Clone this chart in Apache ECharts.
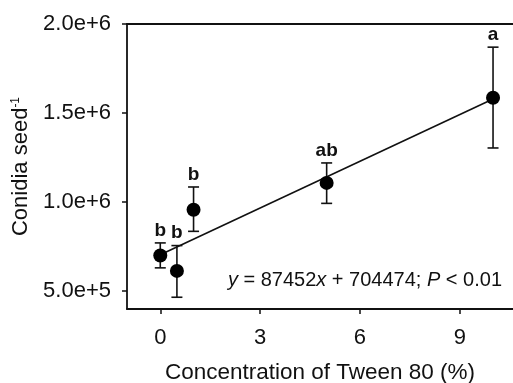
<!DOCTYPE html>
<html>
<head>
<meta charset="utf-8">
<script src="https://cdn.jsdelivr.net/npm/echarts@6/dist/echarts.min.js"></script>
<style>
  html, body { margin: 0; padding: 0; background: #fff; }
  #chart { width: 513px; height: 383px; }
</style>
</head>
<body>
<div id="chart"></div>
<script>
// Tween 80 concentration (%) vs conidia per seed
const concentrations = [0, 0.5, 1, 5, 10]
const meanConidia = [700000, 614000, 957000, 1108000, 1586000]
const errLow = [631000, 466000, 836000, 993000, 1304000]
const errHigh = [771000, 756000, 1085000, 1220000, 1870000]
const letters = ['b', 'b', 'b', 'ab', 'a']
const fitLine = [[0, 704474], [10, 1578994]]
const xTicks = [0, 3, 6, 9]
const yTicks = [500000, 1000000, 1500000, 2000000]

const font = '"Liberation Sans", Arial, sans-serif'
const ink = '#111'

const chart = echarts.init(document.getElementById('chart'))

const points = concentrations.map((x, i) => [x, meanConidia[i]])
const bars = concentrations.map((x, i) => [x, errLow[i], errHigh[i], i])

chart.setOption({
  animation: false,
  grid: { left: 127, right: 0, top: 24, bottom: 74, outerBoundsMode: 'none', containLabel: false },
  xAxis: [
    {
      type: 'value',
      min: -1,
      max: 10.6,
      splitLine: { show: false },
      axisLine: { onZero: false, lineStyle: { color: ink, width: 1.8 } },
      axisTick: { customValues: xTicks, length: 5, lineStyle: { color: ink, width: 1.5 } },
      axisLabel: { customValues: xTicks, color: ink, fontSize: 22, fontFamily: font, margin: 18 },
      name: 'Concentration of Tween 80 (%)',
      nameLocation: 'middle',
      nameGap: 52,
      nameTextStyle: { color: ink, fontSize: 22.5, fontFamily: font },
    },
    {
      type: 'value',
      position: 'top',
      min: -1,
      max: 10.6,
      splitLine: { show: false },
      axisLine: { show: true, onZero: false, lineStyle: { color: ink, width: 1.8 } },
      axisTick: { show: false },
      axisLabel: { show: false },
    },
  ],
  yAxis: {
    type: 'value',
    min: 400000,
    max: 2000000,
    splitLine: { show: false },
    axisLine: { show: true, onZero: false, lineStyle: { color: ink, width: 1.8 } },
    axisTick: { show: true, customValues: yTicks, length: 5, lineStyle: { color: ink, width: 1.5 } },
    axisLabel: {
      customValues: yTicks,
      color: ink,
      fontSize: 22,
      fontFamily: font,
      margin: 16,
      formatter: (v) => v.toExponential(1),
    },
    name: 'Conidia seed{sup|-1}',
    nameLocation: 'middle',
    nameGap: 82,
    nameTextStyle: {
      color: ink,
      fontSize: 22,
      fontFamily: font,
      rich: { sup: { fontSize: 12, fontFamily: font, color: ink, verticalAlign: 'top', padding: [0, 0, 12, 0] } },
    },
  },
  graphic: [
    {
      type: 'text',
      x: 502,
      y: 280,
      style: {
        text: '{i|y} = 87452{i|x} + 704474; {i|P} < 0.01',
        align: 'right',
        verticalAlign: 'middle',
        fill: ink,
        font: '20px ' + font,
        rich: { i: { fontStyle: 'italic', fontSize: 20, fontFamily: font, fill: ink } },
      },
    },
  ],
  series: [
    {
      type: 'line',
      data: fitLine,
      showSymbol: false,
      symbol: 'none',
      lineStyle: { color: ink, width: 1.6 },
      z: 1,
    },
    {
      type: 'custom',
      data: bars,
      z: 2,
      renderItem: (params, api) => {
        const x = api.value(0)
        const lo = api.coord([x, api.value(1)])
        const hi = api.coord([x, api.value(2)])
        const cap = 5.5
        const style = { stroke: ink, lineWidth: 1.6 }
        return {
          type: 'group',
          children: [
            { type: 'line', shape: { x1: lo[0], y1: lo[1], x2: hi[0], y2: hi[1] }, style },
            { type: 'line', shape: { x1: lo[0] - cap, y1: lo[1], x2: lo[0] + cap, y2: lo[1] }, style },
            { type: 'line', shape: { x1: hi[0] - cap, y1: hi[1], x2: hi[0] + cap, y2: hi[1] }, style },
            {
              type: 'text',
              x: hi[0],
              y: hi[1] - 3,
              style: {
                text: letters[api.value(3)],
                align: 'center',
                verticalAlign: 'bottom',
                fill: ink,
                font: 'bold 19px ' + font,
              },
            },
          ],
        }
      },
    },
    {
      type: 'scatter',
      data: points,
      symbol: 'circle',
      symbolSize: 14,
      itemStyle: { color: '#000', opacity: 1 },
      z: 3,
    },
  ],
})
</script>
</body>
</html>
